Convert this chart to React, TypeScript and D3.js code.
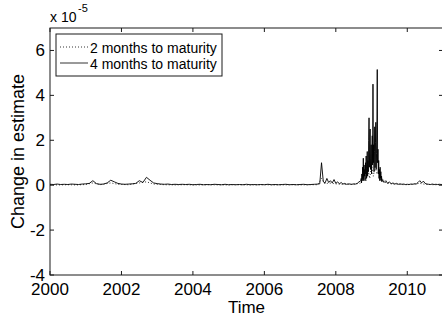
import React from 'react';
import * as d3 from 'd3';

const xTicks = [2000, 2002, 2004, 2006, 2008, 2010];
const yTicks = [-4, -2, 0, 2, 4, 6];
const seriesNames = ['2 months to maturity', '4 months to maturity'];

// 4 months to maturity (values in units of 1e-5)
const times4 = [
  2000.0, 2000.1, 2000.2, 2000.3, 2000.4, 2000.5, 2000.6, 2000.7, 2000.8, 2000.9,
  2001.0, 2001.1, 2001.2, 2001.3, 2001.4, 2001.5, 2001.6, 2001.7, 2001.8, 2001.9,
  2002.0, 2002.1, 2002.2, 2002.3, 2002.4, 2002.5, 2002.6, 2002.7, 2002.8, 2002.9,
  2003.0, 2003.1, 2003.2, 2003.3, 2003.4, 2003.5, 2003.6, 2003.7, 2003.8, 2003.9,
  2004.0, 2004.1, 2004.2, 2004.3, 2004.4, 2004.5, 2004.6, 2004.7, 2004.8, 2004.9,
  2005.0, 2005.1, 2005.2, 2005.3, 2005.4, 2005.5, 2005.6, 2005.7, 2005.8, 2005.9,
  2006.0, 2006.1, 2006.2, 2006.3, 2006.4, 2006.5, 2006.6, 2006.7, 2006.8, 2006.9,
  2007.0, 2007.1, 2007.2, 2007.3, 2007.4, 2007.5,
  2007.55, 2007.6, 2007.65, 2007.7, 2007.75, 2007.8, 2007.85, 2007.9, 2007.95, 2008.0,
  2008.05, 2008.1, 2008.15, 2008.2, 2008.25, 2008.3, 2008.35, 2008.4, 2008.45, 2008.5,
  2008.55, 2008.6, 2008.65, 2008.7,
  2008.71, 2008.72, 2008.73, 2008.74, 2008.75, 2008.76, 2008.77, 2008.78, 2008.79, 2008.8,
  2008.81, 2008.82, 2008.83, 2008.84, 2008.85, 2008.86, 2008.87, 2008.88, 2008.89, 2008.9,
  2008.91, 2008.92, 2008.93, 2008.94, 2008.95, 2008.96, 2008.97, 2008.98, 2008.99, 2009.0,
  2009.01, 2009.02, 2009.03, 2009.04, 2009.05, 2009.06, 2009.07, 2009.08, 2009.09, 2009.1,
  2009.11, 2009.12, 2009.13, 2009.14, 2009.15, 2009.16, 2009.17, 2009.18, 2009.19, 2009.2,
  2009.21, 2009.22, 2009.23, 2009.24, 2009.25, 2009.26, 2009.27, 2009.28, 2009.29, 2009.3,
  2009.35, 2009.4, 2009.45, 2009.5, 2009.55, 2009.6, 2009.65, 2009.7, 2009.75, 2009.8,
  2009.85, 2009.9, 2009.95, 2010.0, 2010.05, 2010.1, 2010.15, 2010.2, 2010.25, 2010.3,
  2010.35, 2010.4, 2010.45, 2010.5, 2010.55, 2010.6, 2010.65, 2010.7, 2010.75, 2010.8,
  2010.85, 2010.9, 2010.95, 2011.0,
];
const values4 = [
  0.04, 0.03, 0.05, 0.03, 0.04, 0.03, 0.05, 0.04, 0.03, 0.05,
  0.06, 0.08, 0.2, 0.07, 0.04, 0.05, 0.1, 0.22, 0.15, 0.08,
  0.05, 0.04, 0.05, 0.06, 0.08, 0.2, 0.12, 0.35, 0.22, 0.1,
  0.07, 0.05, 0.04, 0.05, 0.03, 0.04, 0.03, 0.04, 0.03, 0.04,
  0.02, 0.03, 0.04, 0.02, 0.03, 0.02, 0.04, 0.03, 0.02, 0.04,
  0.02, 0.03, 0.02, 0.03, 0.02, 0.04, 0.02, 0.03, 0.02, 0.03,
  0.02, 0.04, 0.02, 0.03, 0.02, 0.03, 0.04, 0.02, 0.03, 0.02,
  0.03, 0.04, 0.02, 0.03, 0.04, 0.05,
  0.06, 1.0, 0.15, 0.1, 0.3, 0.12, 0.2, 0.1, 0.25, 0.08,
  0.15, 0.06, 0.12, 0.05, 0.08, 0.04, 0.06, 0.05, 0.04, 0.06,
  0.05, 0.08, 0.15, 0.2,
  0.3, 0.1, 0.5, 0.2, 0.8, 0.3, 1.2, 0.2, 0.9, 0.4,
  0.7, 0.2, 1.0, 0.5, 1.3, 0.3, 0.9, 1.5, 0.4, 1.1,
  0.6, 2.0, 3.0, 0.8, 1.6, 2.5, 0.7, 1.2, 1.8, 0.5,
  1.4, 2.2, 0.9, 4.5, 1.0, 1.8, 0.6, 1.5, 2.6, 0.8,
  1.9, 2.8, 0.7, 1.4, 2.5, 5.15, 1.0, 1.6, 0.5, 1.1,
  0.3, 0.7, 0.2, 0.8, 0.3, 0.6, 0.2, 0.4, 0.15, 0.25,
  0.12, 0.2, 0.08, 0.15, 0.06, 0.1, 0.05, 0.08, 0.04, 0.06,
  0.04, 0.05, 0.03, 0.04, 0.03, 0.05, 0.04, 0.06, 0.05, 0.12,
  0.2, 0.1, 0.18, 0.08, 0.05, 0.04, 0.03, 0.05, 0.03, 0.04,
  0.03, 0.04, 0.03, 0.04,
];

// 2 months to maturity (values in units of 1e-5)
const times2 = [
  2000.0, 2000.25, 2000.5, 2000.75, 2001.0, 2001.2, 2001.4, 2001.7, 2001.9, 2002.2,
  2002.5, 2002.7, 2002.9, 2003.2, 2003.5, 2003.75, 2004.0, 2004.25, 2004.5, 2004.75,
  2005.0, 2005.25, 2005.5, 2005.75, 2006.0, 2006.25, 2006.5, 2006.75, 2007.0, 2007.25,
  2007.5, 2007.6, 2007.7, 2007.8, 2008.0, 2008.25, 2008.5, 2008.7, 2008.75, 2008.8,
  2008.85, 2008.9, 2008.95, 2009.0, 2009.05, 2009.1, 2009.15, 2009.2, 2009.25, 2009.3,
  2009.4, 2009.6, 2009.8, 2010.0, 2010.35, 2010.5, 2010.75, 2011.0,
];
const values2 = [
  0.02, 0.01, 0.02, 0.01, 0.03, 0.1, 0.02, 0.1, 0.04, 0.02,
  0.1, 0.15, 0.05, 0.02, 0.01, 0.02, 0.01, 0.01, 0.02, 0.01,
  0.01, 0.02, 0.01, 0.01, 0.02, 0.01, 0.01, 0.02, 0.01, 0.02,
  0.02, 0.3, 0.05, 0.1, 0.06, 0.03, 0.03, 0.1, 0.3, 0.5,
  0.2, 0.7, 0.3, 0.9, 0.4, 0.8, 0.5, 0.6, 0.2, 0.3,
  0.1, 0.05, 0.03, 0.02, 0.08, 0.04, 0.02, 0.02,
];

const FONT = '"Liberation Sans", Arial, Helvetica, sans-serif';

export default function App() {
  const W = 442;
  const H = 320;
  const left = 50, right = 443, top = 28, bottom = 275;
  const x = d3.scaleLinear().domain([2000, 2011]).range([left, right]);
  const y = d3.scaleLinear().domain([-4, 7]).range([bottom, top]);
  const axisColor = '#1a1a1a';
  const tickLen = 4;

  const line4 = d3.line<number>().x((_, i) => x(times4[i])).y((d) => y(d))(values4) || '';
  const line2 = d3.line<number>().x((_, i) => x(times2[i])).y((d) => y(d))(values2) || '';

  return (
    <svg width={W} height={H} style={{ position: 'absolute', left: 0, top: 0, background: '#fff' }} fontFamily={FONT}>
      <rect x={0} y={0} width={W} height={H} fill="#fff" />
      <defs>
        <clipPath id="plotclip">
          <rect x={left} y={top} width={right - left} height={bottom - top} />
        </clipPath>
      </defs>
      <g clipPath="url(#plotclip)">
        <path d={line4} fill="none" stroke="#000" strokeWidth={0.9} strokeLinejoin="miter" />
        <path d={line2} fill="none" stroke="#000" strokeWidth={0.8} strokeDasharray="1 2" />
      </g>
      {/* box */}
      <rect x={left} y={top} width={right - left} height={bottom - top} fill="none" stroke={axisColor} strokeWidth={1} />
      {/* x ticks */}
      {xTicks.map((t) => (
        <g key={'xt' + t}>
          <line x1={x(t)} x2={x(t)} y1={bottom} y2={bottom - tickLen} stroke={axisColor} />
          <line x1={x(t)} x2={x(t)} y1={top} y2={top + tickLen} stroke={axisColor} />
          <text x={x(t)} y={295} textAnchor="middle" fontSize={17} fill="#000">{t}</text>
        </g>
      ))}
      {/* y ticks */}
      {yTicks.map((t) => (
        <g key={'yt' + t}>
          <line x1={left} x2={left + tickLen} y1={y(t)} y2={y(t)} stroke={axisColor} />
          <line x1={right - tickLen} x2={right} y1={y(t)} y2={y(t)} stroke={axisColor} />
          <text x={45} y={y(t) + 6} textAnchor="end" fontSize={17} fill="#000">{t}</text>
        </g>
      ))}
      {/* exponent */}
      <text x={50} y={22} fontSize={14} fill="#000">x 10</text>
      <text x={78} y={12} fontSize={11} fill="#000">-5</text>
      {/* axis labels */}
      <text x={(left + right) / 2} y={313} textAnchor="middle" fontSize={17} fill="#000">Time</text>
      <text transform={`translate(24,${(top + bottom) / 2}) rotate(-90)`} textAnchor="middle" fontSize={18} fill="#000">Change in estimate</text>
      {/* legend */}
      <rect x={56} y={34} width={166} height={42} fill="#fff" stroke={axisColor} strokeWidth={1} />
      <line x1={60} x2={88} y1={47} y2={47} stroke="#000" strokeWidth={0.8} strokeDasharray="1 2" />
      <text x={90} y={53} fontSize={14} fill="#000">{seriesNames[0]}</text>
      <line x1={60} x2={88} y1={63} y2={63} stroke="#000" strokeWidth={0.8} />
      <text x={90} y={69} fontSize={14} fill="#000">{seriesNames[1]}</text>
    </svg>
  );
}
